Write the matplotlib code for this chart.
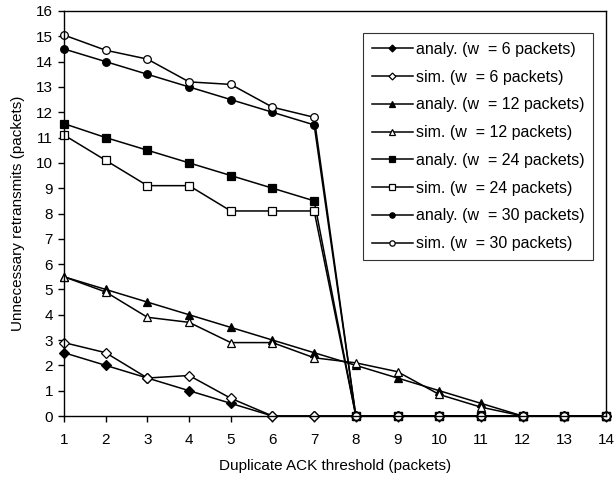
import matplotlib
matplotlib.use("Agg")
import matplotlib.pyplot as plt

plt.rcParams['font.family'] = ['Liberation Sans', 'DejaVu Sans']

thresholds = list(range(1, 15))

analy_w6 = [2.5, 2.0, 1.5, 1.0, 0.5, 0, 0, 0, 0, 0, 0, 0, 0, 0]
sim_w6 = [2.9, 2.5, 1.5, 1.6, 0.7, 0, 0, 0, 0, 0, 0, 0, 0, 0]
analy_w12 = [5.5, 5.0, 4.5, 4.0, 3.5, 3.0, 2.5, 2.0, 1.5, 1.0, 0.5, 0, 0, 0]
sim_w12 = [5.5, 4.9, 3.9, 3.7, 2.9, 2.9, 2.3, 2.1, 1.75, 0.85, 0.35, 0, 0, 0]
analy_w24 = [11.55, 11.0, 10.5, 10.0, 9.5, 9.0, 8.5, 0, 0, 0, 0, 0, 0, 0]
sim_w24 = [11.1, 10.1, 9.1, 9.1, 8.1, 8.1, 8.1, 0, 0, 0, 0, 0, 0, 0]
analy_w30 = [14.5, 14.0, 13.5, 13.0, 12.5, 12.0, 11.5, 0, 0, 0, 0, 0, 0, 0]
sim_w30 = [15.05, 14.45, 14.1, 13.2, 13.1, 12.2, 11.8, 0, 0, 0, 0, 0, 0, 0]

series = [
    (analy_w6, 'D', True, "analy. (w  = 6 packets)"),
    (sim_w6, 'D', False, "sim. (w  = 6 packets)"),
    (analy_w12, '^', True, "analy. (w  = 12 packets)"),
    (sim_w12, '^', False, "sim. (w  = 12 packets)"),
    (analy_w24, 's', True, "analy. (w  = 24 packets)"),
    (sim_w24, 's', False, "sim. (w  = 24 packets)"),
    (analy_w30, 'o', True, "analy. (w  = 30 packets)"),
    (sim_w30, 'o', False, "sim. (w  = 30 packets)"),
]

fig = plt.figure(figsize=(6.16, 4.83), dpi=100)
ax = fig.add_axes([64 / 616, 1 - 416 / 483, (606 - 64) / 616, (416 - 11) / 483])

for vals, mk, filled, label in series:
    ms = 5.5 if mk != 'D' else 5
    ax.plot(thresholds, vals, color='black', lw=1.1, marker=mk, markersize=ms,
            markerfacecolor='black' if filled else 'white',
            markeredgecolor='black', markeredgewidth=0.9, label=label, clip_on=False)

ax.set_xlim(1, 14)
ax.set_ylim(0, 16)
ax.set_xticks(thresholds)
ax.set_yticks(range(0, 17))
ax.tick_params(direction='out', length=4, width=1, labelsize=11, colors='black')
ax.tick_params(axis='x', pad=8)
ax.tick_params(axis='y', pad=4)
for s in ax.spines.values():
    s.set_linewidth(1.0)

ax.set_xlabel("Duplicate ACK threshold (packets)", fontsize=11, labelpad=9)
ax.set_ylabel("Unnecessary retransmits (packets)", fontsize=11, labelpad=8)

leg = ax.legend(loc='upper right', bbox_to_anchor=(593 / 616, 1 - 33 / 483),
                bbox_transform=fig.transFigure, fontsize=11.5, frameon=True,
                fancybox=False, edgecolor='black', markerscale=0.7,
                handlelength=2.6, handletextpad=0.15, labelspacing=0.8,
                borderpad=0.55, borderaxespad=0)
leg.get_frame().set_linewidth(0.8)

fig.savefig("out.png", dpi=100)
